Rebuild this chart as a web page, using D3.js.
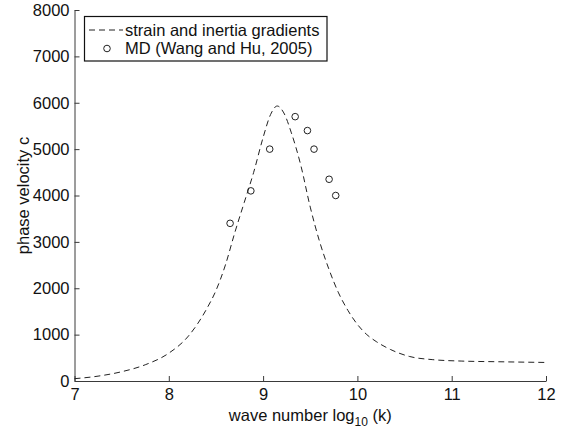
<!DOCTYPE html>
<html>
<head>
<meta charset="utf-8">
<script src="https://cdn.jsdelivr.net/npm/d3@7"></script>
<style>
  html, body { margin: 0; padding: 0; background: #fff; }
  svg text { font-family: "Liberation Sans", Arial, Helvetica, sans-serif; }
</style>
</head>
<body>
<svg id="chart" width="563" height="428"></svg>
<script>
// ---- data ----
const curveX = [7.0, 7.25, 7.5, 7.75, 8.0, 8.2, 8.4, 8.5, 8.6, 8.7, 8.8, 8.9, 9.0, 9.08, 9.15, 9.22, 9.3, 9.4, 9.5, 9.6, 9.7, 9.8, 9.9, 10.0, 10.1, 10.2, 10.35, 10.55, 10.8, 11.1, 11.5, 12.0];
const curveY = [50, 105, 200, 350, 600, 950, 1550, 1950, 2500, 3200, 3850, 4500, 5250, 5750, 5930, 5780, 5350, 4650, 3750, 3000, 2400, 1900, 1520, 1220, 1000, 850, 680, 530, 460, 430, 415, 400];
const mdX = [8.65, 8.87, 9.07, 9.34, 9.47, 9.54, 9.70, 9.77];
const mdY = [3400, 4100, 5000, 5700, 5400, 5000, 4350, 4000];
const xTicks = [7, 8, 9, 10, 11, 12];
const yTicks = [0, 1000, 2000, 3000, 4000, 5000, 6000, 7000, 8000];
const legendLabels = ["strain and inertia gradients", "MD (Wang and Hu, 2005)"];
const xLabel = "wave number log";
const xLabelSub = "10";
const xLabelTail = " (k)";
const yLabel = "phase velocity c";

(function () {
  // ---- layout ----
  const svg = d3.select("#chart");
  const pL = 74.5, pR = 546, pT = 10, pB = 381;
  const fs = 16.5;
  const x = d3.scaleLinear().domain([7, 12]).range([pL, pR]);
  const y = d3.scaleLinear().domain([0, 8000]).range([pB, pT]);

  // axes
  const axisColor = "#3a3a3a";
  const gx = svg.append("g").attr("transform", `translate(0,${pB})`)
    .call(d3.axisBottom(x).tickValues(xTicks).tickFormat(d3.format("d"))
      .tickSizeInner(-5).tickSizeOuter(0).tickPadding(7));
  const gy = svg.append("g").attr("transform", `translate(${pL},0)`)
    .call(d3.axisLeft(y).tickValues(yTicks).tickFormat(d3.format("d"))
      .tickSizeInner(-5).tickSizeOuter(0).tickPadding(5));
  [gx, gy].forEach(g => {
    g.select(".domain").attr("stroke", axisColor).attr("stroke-width", 1);
    g.selectAll(".tick line").attr("stroke", axisColor);
    g.selectAll(".tick text").attr("fill", "#111").style("font-size", fs + "px")
      .style("font-family", '"Liberation Sans", Arial, sans-serif');
  });

  // curve
  const pts = curveX.map((d, i) => [d, curveY[i]]);
  const line = d3.line().x(d => x(d[0])).y(d => y(d[1])).curve(d3.curveMonotoneX);
  svg.append("path").datum(pts).attr("d", line)
    .attr("fill", "none").attr("stroke", "#222").attr("stroke-width", 1)
    .attr("stroke-dasharray", "6,4");

  // MD points
  svg.append("g").selectAll("circle").data(mdX.map((d, i) => [d, mdY[i]])).enter()
    .append("circle").attr("cx", d => x(d[0])).attr("cy", d => y(d[1])).attr("r", 3.3)
    .attr("fill", "none").attr("stroke", "#222").attr("stroke-width", 1);

  // legend
  const lg = svg.append("g");
  lg.append("rect").attr("x", 84.5).attr("y", 16.5).attr("width", 242.5).attr("height", 44.5)
    .attr("fill", "#fff").attr("stroke", "#111").attr("stroke-width", 1.2);
  lg.append("line").attr("x1", 89).attr("x2", 123).attr("y1", 30).attr("y2", 30)
    .attr("stroke", "#222").attr("stroke-width", 1).attr("stroke-dasharray", "6,4");
  lg.append("circle").attr("cx", 107).attr("cy", 48.5).attr("r", 3.3)
    .attr("fill", "none").attr("stroke", "#222").attr("stroke-width", 1);
  lg.selectAll("text.lab").data(legendLabels).enter().append("text")
    .attr("class", "lab").attr("x", 125).attr("y", (d, i) => 36 + i * 17.6)
    .style("font-size", fs + "px").attr("fill", "#111").text(d => d);

  // axis labels
  const xl = svg.append("text").attr("x", (pL + pR) / 2).attr("y", 421)
    .attr("text-anchor", "middle").style("font-size", fs + "px").attr("fill", "#111");
  xl.append("tspan").text(xLabel);
  xl.append("tspan").attr("dy", 5).style("font-size", "12px").text(xLabelSub);
  xl.append("tspan").attr("dy", -5).text(xLabelTail);

  svg.append("text").attr("transform", `translate(28.5,${(pT + pB) / 2}) rotate(-90)`)
    .attr("text-anchor", "middle").style("font-size", fs + "px").attr("fill", "#111").text(yLabel);
})();
</script>
</body>
</html>
